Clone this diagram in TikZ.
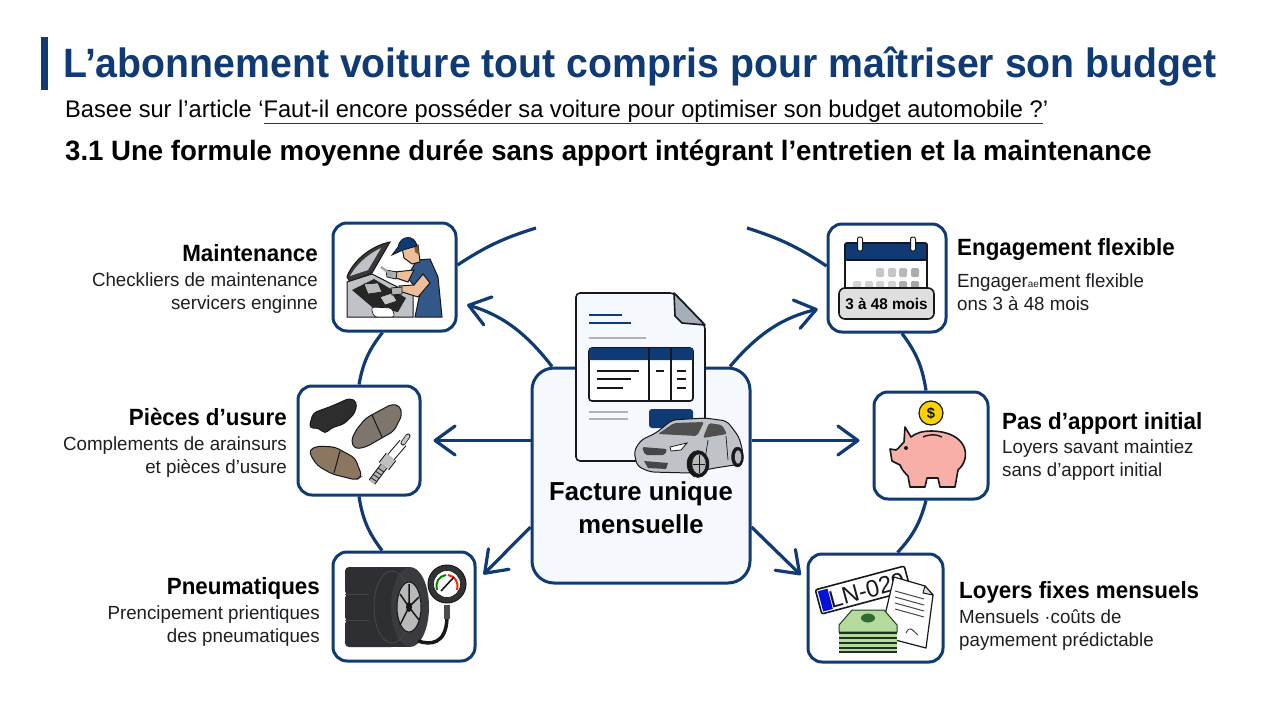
\documentclass[tikz,border=0pt]{standalone}
\usepackage{fontspec}
\setmainfont[FakeStretch=0.985]{Liberation Sans}
\newfontfamily\fonttitre[FakeStretch=0.957]{Liberation Sans}
\newfontfamily\fontlab[FakeStretch=0.952]{Liberation Sans}
\usetikzlibrary{arrows.meta}
\usetikzlibrary{calc}

\definecolor{marine}{HTML}{0F3A73}
\definecolor{fond}{HTML}{F5F8FC}
\definecolor{encre}{HTML}{16181C}
\definecolor{gristexte}{HTML}{1C1E22}
\definecolor{peau}{HTML}{EDBE9A}
\definecolor{tole}{HTML}{BFC2C6}
\definecolor{plaquette}{HTML}{7E7468}
\definecolor{billet}{HTML}{B5DA9B}
\definecolor{billetf}{HTML}{2F6B37}
\definecolor{cochon}{HTML}{F7AFA8}

\tikzset{
  iconbox/.style={draw=marine, line width=3pt, fill=white, rounded corners=14pt, inner sep=0pt},
  lien/.style={draw=marine, line width=3.2pt},
  fleche/.style={lien, -{Straight Barb[length=20pt,width=29pt,line width=3.2pt,round]}},
  titrelab/.style={font=\fontlab\fontsize{23.5}{27}\selectfont\bfseries, text=black, inner sep=0pt},
  corpslab/.style={font=\fontsize{19}{23}\selectfont, text=gristexte, inner sep=0pt},
  trait/.style={draw=encre, line width=1.6pt, line join=round},
}

\begin{document}
\begin{tikzpicture}[x=1pt,y=-1pt]
  \useasboundingbox (0,0) rectangle (1280,720);

  % En-tête
  \fill[marine] (41,37) rectangle (48,90);
  \node (titre) [anchor=base west, inner sep=0pt, text=marine, font=\fonttitre\fontsize{41}{44}\selectfont\bfseries] at (63,77)
    {L’abonnement voiture tout compris pour maîtriser son budget};
  \node (source) [anchor=base west, inner sep=0pt, font=\fontsize{24}{26}\selectfont] at (65,117)
    {Basee sur l’article ‘{\color{marine}\underline{\color{black}Faut-il encore posséder sa voiture pour optimiser son budget automobile ?}}’};
  \node (section) [anchor=base west, inner sep=0pt, font=\fontsize{28}{32}\selectfont\bfseries] at (65,160)
    {3.1 Une formule moyenne durée sans apport intégrant l’entretien et la maintenance};

  % Boîtes
  \node (facture) [iconbox, fill=fond, minimum width=218pt, minimum height=215pt, rounded corners=22pt] at (641,475.5) {};
  \node (maint) [iconbox, minimum width=123pt, minimum height=108pt] at (394.5,277) {};
  \node (pieces) [iconbox, minimum width=122pt, minimum height=109pt] at (359,440.5) {};
  \node (pneus) [iconbox, minimum width=142pt, minimum height=109pt] at (404,606.5) {};
  \node (engag) [iconbox, minimum width=118pt, minimum height=108pt] at (887,278) {};
  \node (apport) [iconbox, minimum width=114pt, minimum height=107pt] at (931,445.5) {};
  \node (loyers) [iconbox, minimum width=135pt, minimum height=108pt] at (875.5,608) {};

  \coordinate (arcg) at (536,228);
  \coordinate (arcd) at (747,228);

  % Anneau entre les boîtes
  \draw[lien] ([yshift=12pt]maint.east) to[bend left=8] (arcg);
  \draw[lien] ([yshift=12pt]engag.west) to[bend right=8] (arcd);
  \draw[lien] ([xshift=-12pt]maint.south) to[bend right=14] (pieces.north);
  \draw[lien] (pieces.south) to[bend right=14] ([xshift=-22pt]pneus.north);
  \draw[lien] ([xshift=15pt]engag.south) to[bend left=14] ([xshift=-5pt]apport.north);
  \draw[lien] ([xshift=-5pt]apport.south) to[bend left=14] ([xshift=22pt]loyers.north);

  % Flèches depuis la facture
  \draw[fleche, shorten >=10pt] ([xshift=-89pt]facture.north) to[bend right=18] ([yshift=-25pt]maint.east);
  \draw[fleche, shorten >=12pt] ([yshift=35pt]facture.west) -- (pieces.east);
  \draw[fleche, shorten >=10pt] ([yshift=-51.5pt]facture.west) -- ([yshift=25pt]pneus.east);
  \draw[fleche, shorten >=9pt] ([xshift=89pt]facture.north) to[bend left=18] ([yshift=-29pt]engag.west);
  \draw[fleche, shorten >=13pt] ([yshift=35pt]facture.east) -- ([yshift=5pt]apport.west);
  \draw[fleche, shorten >=8pt] ([yshift=-51.5pt]facture.east) -- ([yshift=27.5pt]loyers.west);

  % Document
  \filldraw[trait, fill=fond, rounded corners=4pt] (674,293) -- (576,293) -- (576,461) -- (705,461) -- (705,325) -- cycle;
  \filldraw[trait, fill=tole!85!marine] (674,293) -- (705,325) -- (682,323) -- (675,316) -- cycle;
  \draw[marine, line width=2.5pt] (589,315) -- (622,315) (589,323) -- (631,323);
  \draw[gray!60, line width=1.5pt] (589,338) -- (646,338) (589,412) -- (628,412) (589,419) -- (628,419);
  \filldraw[trait, fill=white, rounded corners=3pt] (589,348) rectangle (693,401);
  \fill[marine, rounded corners=2pt] (589,348) rectangle (693,360);
  \draw[trait] (649,348) -- (649,401) (671,348) -- (671,401);
  \draw[encre, line width=1.4pt] (597,371) -- (639,371) (597,379) -- (631,379) (597,388) -- (623,388)
    (656,371) -- (664,371) (677,371) -- (686,371) (677,379) -- (686,379) (677,388) -- (686,388);
  \fill[marine, rounded corners=3pt] (649,409) rectangle (693,428);

  % Voiture
  \filldraw[draw=encre, line width=1pt, fill=tole, rounded corners=5pt] (637,466) -- (634,451) -- (641,440) -- (656,433) -- (672,420) -- (705,418) -- (727,421) -- (739,437) -- (743,452) -- (741,464) -- (715,468) -- (690,473) -- (650,472) -- cycle;
  \fill[gray!62!black, rounded corners=2pt] (658,434) -- (674,423) -- (704,422) -- (697,436) -- cycle;
  \fill[gray!62!black, rounded corners=2pt] (709,423) -- (722,425) -- (727,434) -- (703,438) -- cycle;
  \filldraw[draw=encre, line width=.8pt, fill=white] (670,447) -- (687,443) -- (681,450) -- (671,451) -- cycle;
  \fill[encre!80, rounded corners=2pt] (642,447) -- (667,449) -- (665,455) -- (645,455) -- cycle;
  \fill[encre!80] (644,461) -- (668,463) -- (666,469) -- (648,468) -- cycle;
  \draw[encre, line width=.7pt] (708,440) -- (704,466) (726,436) -- (728,460);
  \filldraw[encre] (698,464) ellipse [x radius=11pt, y radius=13.5pt];
  \filldraw[fill=gray!55, draw=encre] (699,464) ellipse [x radius=7pt, y radius=10pt];
  \draw[encre, line width=.7pt] (699,455) -- (699,473) (693,464) -- (705,464);
  \filldraw[encre] (737.5,457) ellipse [x radius=6pt, y radius=10pt];
  \filldraw[fill=gray!55, draw=encre] (738,457) ellipse [x radius=3.5pt, y radius=7pt];

  \node (factureT) [font=\fontsize{26}{33}\selectfont\bfseries, align=center, inner sep=0pt] at (641,508) {Facture unique\\mensuelle};

  % Mécanicien
  \filldraw[draw=encre, line width=1pt, fill=gray!45!black] (347,277) .. controls (352,262) and (370,246) .. (390,242) -- (372,273) -- (350,282) -- cycle;
  \fill[tole] (350,276) .. controls (356,265) and (368,254) .. (381,248) -- (368,270) -- cycle;
  \filldraw[draw=encre, line width=1pt, fill=tole] (347,282) -- (372,274) -- (413,295) -- (413,317) -- (347,317) -- cycle;
  \fill[gray!30!black] (352,290) -- (374,279) -- (406,298) -- (398,312) -- (372,307) -- cycle;
  \filldraw[draw=encre, line width=.6pt, fill=gray!55] (364,284) -- (378,283) -- (382,292) -- (368,294) -- cycle;
  \filldraw[draw=encre, line width=.6pt, fill=gray!45] (380,297) -- (392,293) -- (397,301) -- (385,305) -- cycle;
  \filldraw[draw=encre, line width=.7pt, fill=white, rounded corners=3pt] (371,307) -- (392,308) -- (395,317) -- (374,317) -- cycle;
  \filldraw[draw=encre, line width=1pt, fill=marine!85!white] (417,260) -- (430,259) -- (438,277) -- (442,317) -- (415,317) -- (420,293) -- (407,277) -- cycle;
  \filldraw[draw=encre, line width=1pt, fill=peau] (430,283) -- (418,297) -- (399,291) -- (399,286) -- (414,285) -- (423,274) -- cycle;
  \filldraw[draw=encre, line width=1pt, fill=peau] (414,270) -- (408,282) -- (393,277) -- (394,272) -- cycle;
  \filldraw[draw=encre, line width=.8pt, fill=gray!60] (386,270) -- (397,272) -- (396,279) -- (387,277) -- cycle;
  \filldraw[draw=encre, line width=.8pt, fill=gray!60] (391,288) -- (402,287) -- (402,294) -- (392,295) -- cycle;
  \draw[gray!70, line width=2.5pt] (381,267) -- (392,275);
  \filldraw[draw=encre, line width=1pt, fill=peau] (402,247) -- (418,245) -- (420,262) -- (412,264) -- (404,258) -- cycle;
  \fill[brown!70!black] (414,245) -- (418,245) -- (419,255) -- (415,252) -- cycle;
  \filldraw[draw=encre, line width=.8pt, fill=marine] (398,247) .. controls (400,235) and (415,234) .. (417,246) -- (403,250) -- (392,255) -- cycle;

  % Plaquettes
  \filldraw[draw=encre, line width=1pt, fill=gray!35!black, rounded corners=4pt] (309,428) -- (313,413) -- (332,406) -- (350,398) -- (357,402) -- (355,413) -- (344,424) -- (331,428) -- (325,434) -- (319,428) -- cycle;
  \filldraw[draw=encre, line width=1pt, fill=plaquette!85!gray, rounded corners=4pt] (351,441) -- (356,430) -- (366,418) -- (392,404) -- (400,406) -- (402,415) -- (394,431) -- (366,447) -- (355,449) -- cycle;
  \draw[encre, line width=1pt] (372,415) -- (382,437);
  \filldraw[draw=encre, line width=1pt, fill=plaquette!80!brown, rounded corners=4pt] (309,450) -- (318,446) -- (335,447) -- (355,458) -- (362,476) -- (356,480) -- (332,474) -- (318,466) -- (312,458) -- cycle;
  \draw[encre, line width=1pt] (340,451) -- (334,473);
  % Bougie d'allumage
  \draw[encre, line width=8pt] (372,482) -- (384,466);
  \draw[gray!60, line width=6pt] (372,482) -- (384,466);
  \foreach \t in {.15,.35,.55,.75} {
    \draw[encre, line width=.7pt] ($(372,482)!\t!(384,466)+(-3,-2)$) -- ($(372,482)!\t!(384,466)+(3,2)$);
  }
  \draw[encre, line width=13pt] (384,466) -- (391,457);
  \draw[gray!50, line width=11pt] (384,466) -- (391,457);
  \draw[encre, line width=9pt] (391,457) -- (403,443);
  \draw[white, line width=7pt] (391,457) -- (403,443);
  \draw[encre, line width=5pt, line cap=round] (403,443) -- (408,436);
  \draw[gray!45, line width=3.5pt, line cap=round] (403,443) -- (408,436);

  % Pneus et manomètre
  \fill[encre!90, rounded corners=4pt] (345,567) rectangle (395,595);
  \fill[encre!90, rounded corners=4pt] (345,594) rectangle (395,621);
  \fill[encre!90, rounded corners=4pt] (345,620) rectangle (395,647);
  \draw[gray!55!black, line width=1pt] (345,594) -- (375,594) (345,620) -- (375,620);
  \fill[encre!90] (392,607) ellipse [x radius=24pt, y radius=40pt];
  \fill[encre!90] (392,567) rectangle (410,647);
  \fill[encre!85] (410,607) ellipse [x radius=19pt, y radius=40pt];
  \draw[gray!55!black, line width=1pt] (392,607) ellipse [x radius=18pt, y radius=36pt];
  \filldraw[fill=gray!55, draw=encre, line width=1pt] (409,607) ellipse [x radius=12pt, y radius=25pt];
  \draw[encre, line width=1.5pt] (409,607) -- (409,584) (409,607) -- (419,597) (409,607) -- (419,620) (409,607) -- (400,625) (409,607) -- (400,594);
  \fill[encre] (409,607) ellipse [x radius=3pt, y radius=5pt];
  \draw[encre, line width=3.5pt] (447,618) .. controls (446,645) and (430,645) .. (418,641);
  \fill[gray!60!black] (444,605) rectangle (450,619);
  \filldraw[draw=encre, line width=1pt, fill=gray!40!black] (447,584) circle (19pt);
  \filldraw[draw=encre, line width=.6pt, fill=white] (447,584) circle (13.5pt);
  \draw[green!50!black, line width=2pt] (437,590) .. controls (435,582) and (439,576) .. (446,575);
  \draw[red!70!orange, line width=2pt] (448,575) .. controls (455,576) and (459,582) .. (457,590);
  \draw[encre, line width=1.6pt] (441,591) -- (454,577);

  % Calendrier
  \filldraw[trait, fill=white, rounded corners=2pt] (845,243) rectangle (927,295);
  \filldraw[trait, fill=marine, rounded corners=2pt] (845,243) rectangle (927,260);
  \foreach \x in {860,913} {
    \filldraw[trait, line width=1pt, fill=fond, rounded corners=2pt] (\x-2.5,237) rectangle (\x+2.5,251);
  }
  \foreach \x/\g in {880/45,892/45,903/55,915/65} {
    \fill[gray!\g, rounded corners=1.5pt] (\x-4,268) rectangle (\x+4,277);
  }
  \foreach \x/\g in {857/35,869/35,880/35,892/35,903/65,915/70} {
    \fill[gray!\g, rounded corners=1.5pt] (\x-4,281) rectangle (\x+4,290);
  }
  \node (duree) [draw=encre, line width=1.6pt, fill=gray!25, rounded corners=6pt, minimum width=95pt, minimum height=31pt, inner sep=0pt, font=\fontsize{15.5}{20}\selectfont\bfseries] at (886.5,303.5) {3 à 48 mois};

  % Tirelire
  \filldraw[trait, line width=1.2pt, fill=yellow!70!orange] (931,413) circle (12pt);
  \node (dollar) [font=\fontsize{15}{18}\selectfont\bfseries, text=encre, inner sep=0pt] at (931,413) {\$};
  \filldraw[trait, fill=cochon] (908,476) -- (910,487) -- (925,487) -- (927,478) -- (938,478) -- (940,487) -- (955,487) -- (958,470)
    .. controls (972,458) and (968,432) .. (932,431)
    .. controls (922,431) and (916,433) .. (911,437) -- (905,427) -- (904,442)
    .. controls (900,446) and (898,449) .. (896,450) -- (890,449) -- (892,461) -- (900,465) .. controls (902,470) and (905,473) .. (908,476) -- cycle;
  \fill[encre] (906,448) circle (2pt);
  \draw[encre, line width=1.4pt] (923,437) .. controls (930,434) and (936,434) .. (942,437);

  % Plaque, billets et contrat
  \filldraw[trait, fill=white, rounded corners=2pt, rotate around={15:(863,590)}] (817,577.5) rectangle (909,602.5);
  \fill[blue!70!marine, rotate around={15:(863,590)}] (819,579.5) rectangle (829,600.5);
  \node (plaque) [rotate=15, inner sep=0pt, font=\fontsize{24}{28}\selectfont, text=encre] at (867,590) {LN-029};
  \filldraw[trait, fill=white, line width=1.2pt] (894,577) -- (925,586) -- (933,595) -- (926,648) -- (880,636) -- cycle;
  \filldraw[trait, fill=gray!25, line width=1pt] (925,586) -- (933,595) -- (923,593) -- cycle;
  \foreach \y in {0,1,2,3} {
    \draw[encre!80, line width=1pt] (895,{591+6*\y}) -- (924,{599+6*\y});
  }
  \draw[encre!80, line width=1pt] (906,633) .. controls (910,625) and (912,630) .. (918,635);
  \filldraw[draw=billetf!60!black, line width=1pt, fill=billet] (839,625) -- (852,610) -- (884,610) -- (897,625) -- (897,632) -- (839,632) -- cycle;
  \fill[billetf] (868,618) ellipse [x radius=7pt, y radius=4.5pt];
  \foreach \y in {632,637,642,647} {
    \fill[billet] (839,\y) rectangle (897,\y+5);
    \fill[encre!70!billetf] (839,\y) rectangle (897,\y+2.2);
  }
  \fill[encre!70!billetf] (839,651) rectangle (897,653);

  % Libellés
  \node (maintT) [titrelab, anchor=base east] at (318,261) {Maintenance};
  \node (maintD) [corpslab, anchor=east, align=right] at (318,293.5) {Checkliers de maintenance\\servicers enginne};
  \node (piecesT) [titrelab, anchor=base east] at (287,425) {Pièces d’usure};
  \node (piecesD) [corpslab, anchor=east, align=right] at (287,457.5) {Complements de arainsurs\\et pièces d’usure};
  \node (pneusT) [titrelab, anchor=base east] at (320,594) {Pneumatiques};
  \node (pneusD) [corpslab, anchor=east, align=right] at (320,626.5) {Prencipement prientiques\\des pneumatiques};
  \node (engagT) [titrelab, anchor=base west] at (957,255) {Engagement flexible};
  \node (engagD) [corpslab, anchor=west, align=left] at (957,292) {Engager{\fontsize{10}{10}\selectfont ae}ment flexible\\ons 3 à 48 mois};
  \node (apportT) [titrelab, anchor=base west] at (1002,429) {Pas d’apport initial};
  \node (apportD) [corpslab, anchor=west, align=left] at (1002,460.5) {Loyers savant maintiez\\sans d’apport initial};
  \node (loyersT) [titrelab, anchor=base west] at (959,598) {Loyers fixes mensuels};
  \node (loyersD) [corpslab, anchor=west, align=left] at (959,630.5) {Mensuels ·coûts de\\paymement prédictable};
\end{tikzpicture}
\end{document}
